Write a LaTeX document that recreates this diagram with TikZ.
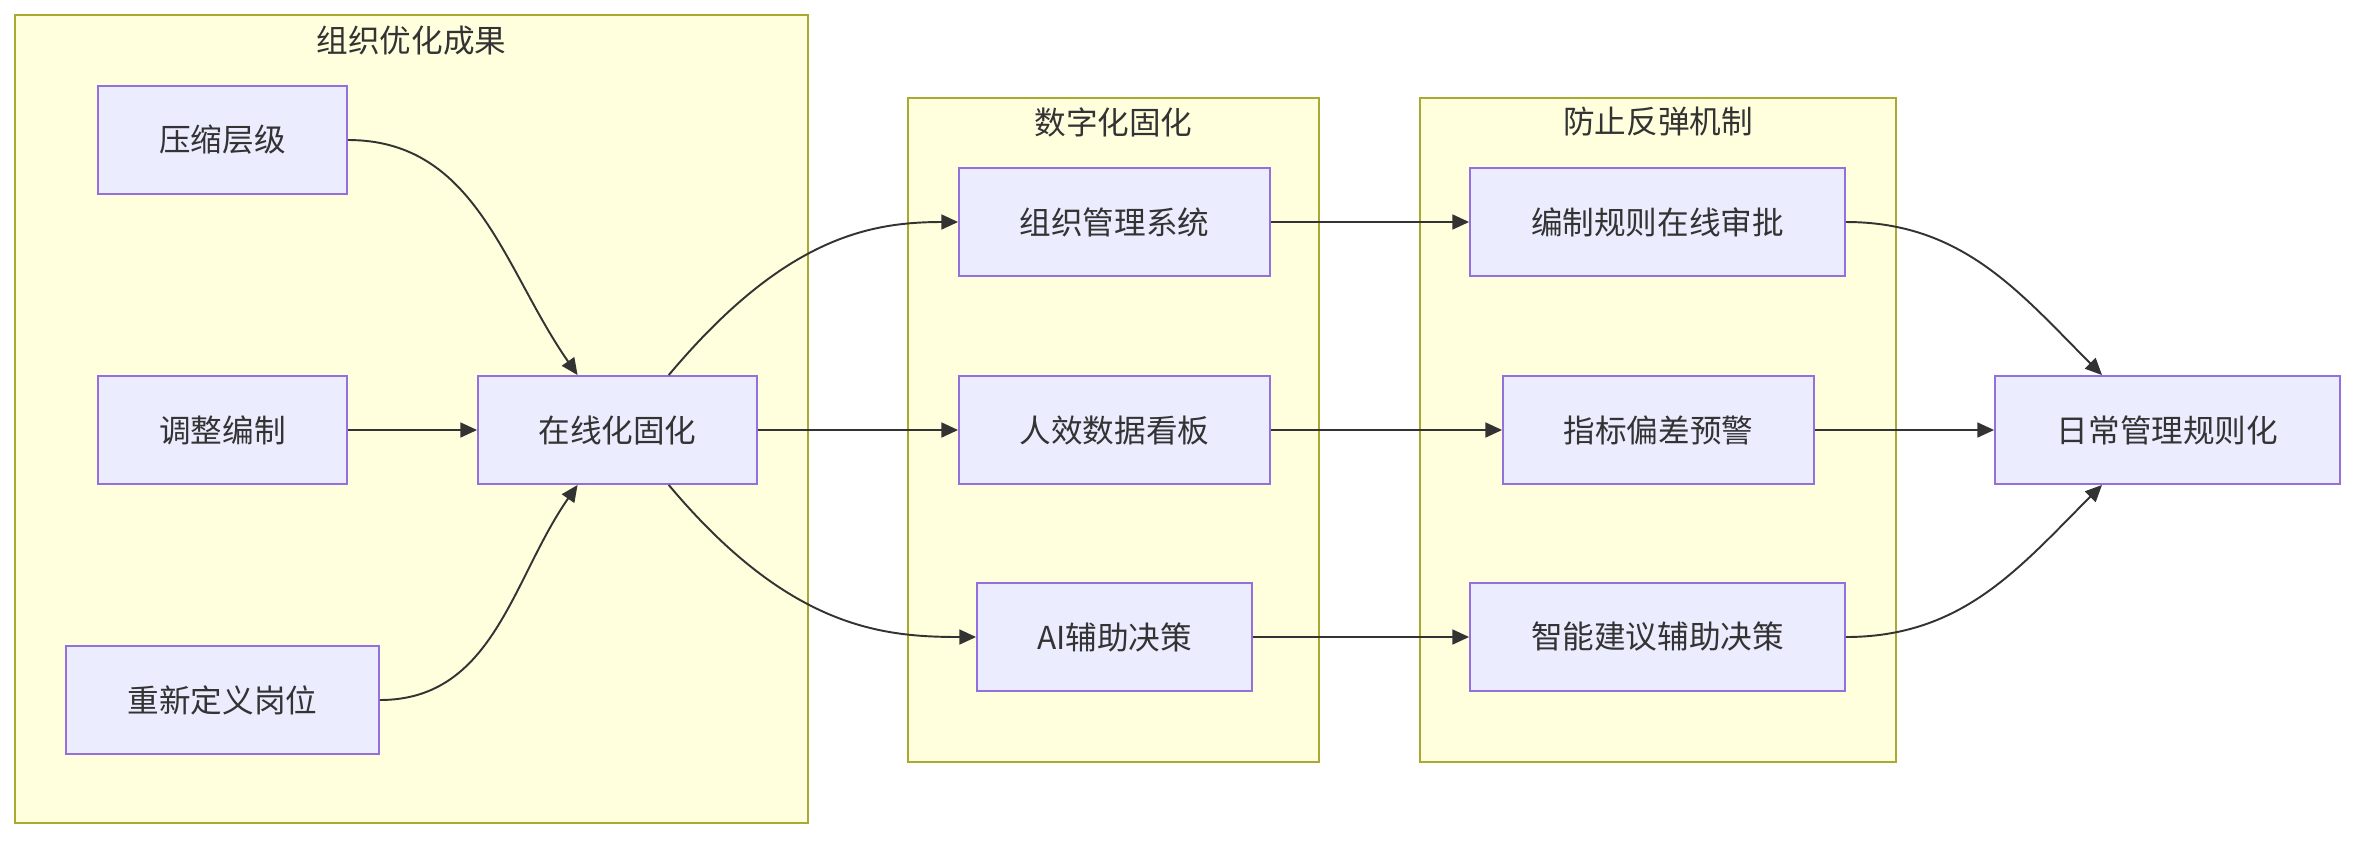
\documentclass[tikz,border=0pt]{standalone}
\usepackage{fontspec}
\setmainfont{Noto Sans CJK SC}
\usepackage{tikz}
\usetikzlibrary{arrows.meta,positioning}
\usepackage{xcolor}
\definecolor{cNode}{HTML}{ECECFF}
\definecolor{cNodeLine}{HTML}{9370DB}
\definecolor{cGroup}{HTML}{FFFFDE}
\definecolor{cGroupLine}{HTML}{AAAA33}
\definecolor{cInk}{HTML}{333333}
\tikzset{
  stepbox/.style={rectangle,draw=cNodeLine,fill=cNode,line width=1.1pt,
                  minimum height=2.16cm,align=center,text=cInk,
                  font=\fontsize{18}{22}\selectfont},
  groupbox/.style={rectangle,draw=cGroupLine,fill=cGroup,line width=1.1pt},
  grouptitle/.style={anchor=north,text=cInk,inner sep=0pt,
                     font=\fontsize{18}{22}\selectfont},
  arr/.style={-{Triangle[length=9.5pt,width=8.5pt]},line width=1.1pt,color=cInk}
}
\begin{document}
\begin{tikzpicture}[x=0.02cm,y=-0.02cm]

  \useasboundingbox (0,0) rectangle (2356,840);

  % Groups
  \draw[groupbox] (15,15) rectangle (808,823);
  \draw[groupbox] (908,98) rectangle (1319,762);
  \draw[groupbox] (1420,98) rectangle (1896,762);
  \node[grouptitle] (tA) at (411.5,26) {组织优化成果};
  \node[grouptitle] (tB) at (1113.5,107) {数字化固化};
  \node[grouptitle] (tC) at (1658,107) {防止反弹机制};

  % Organisation results
  \node[stepbox,minimum width=4.98cm] (ysg) at (222.5,140) {压缩层级};
  \node[stepbox,minimum width=4.98cm] (tzbz) at (222.5,430) {调整编制};
  \node[stepbox,minimum width=6.26cm] (cxdy) at (222.5,700) {重新定义岗位};
  \node[stepbox,minimum width=5.58cm] (zxh) at (617.5,430) {在线化固化};

  % Digital layer
  \node[stepbox,minimum width=6.22cm] (zzgl) at (1114.5,222) {组织管理系统};
  \node[stepbox,minimum width=6.22cm] (rxsj) at (1114.5,430) {人效数据看板};
  \node[stepbox,minimum width=5.5cm] (aifz) at (1114.5,637) {AI辅助决策};

  % Anti-rebound
  \node[stepbox,minimum width=7.5cm] (bzgz) at (1657.5,222) {编制规则在线审批};
  \node[stepbox,minimum width=6.22cm] (zbpc) at (1658.5,430) {指标偏差预警};
  \node[stepbox,minimum width=7.5cm] (znjy) at (1657.5,637) {智能建议辅助决策};

  \node[stepbox,minimum width=6.9cm] (rcgl) at (2167.5,430) {日常管理规则化};

  \draw[arr] (ysg.east) to[out=0,in=125] (zxh.126);
  \draw[arr] (tzbz) -- (zxh);
  \draw[arr] (cxdy.east) to[out=0,in=235] (zxh.234);
  \draw[arr] (zxh.47) to[out=50,in=180,out looseness=1.4,in looseness=0.7] (zzgl.west);
  \draw[arr] (zxh) -- (rxsj);
  \draw[arr] (zxh.-47) to[out=-50,in=180,out looseness=1.4,in looseness=0.7] (aifz.west);
  \draw[arr] (zzgl) -- (bzgz);
  \draw[arr] (rxsj) -- (zbpc);
  \draw[arr] (aifz) -- (znjy);
  \draw[arr] (bzgz.east) to[out=0,in=135] (rcgl.140);
  \draw[arr] (zbpc) -- (rcgl);
  \draw[arr] (znjy.east) to[out=0,in=225] (rcgl.220);

\end{tikzpicture}
\end{document}
